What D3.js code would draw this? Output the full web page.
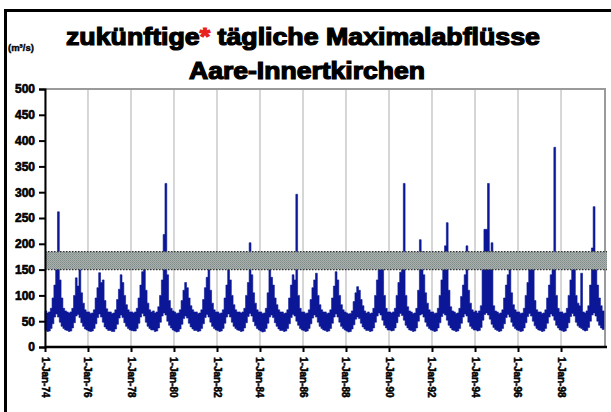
<!DOCTYPE html>
<html><head><meta charset="utf-8">
<script src="https://cdn.jsdelivr.net/npm/d3@7"></script>
<style>body{margin:0;background:#fff}svg{display:block}</style>
</head><body>
<svg id="c" width="611" height="412"></svg>
<script>
// ---- data ----
const startYear = 2074;
const endYear = 2100;
const tickYears = [2074,2076,2078,2080,2082,2084,2086,2088,2090,2092,2094,2096,2098];
const tickLabels = ["1-Jan-74","1-Jan-76","1-Jan-78","1-Jan-80","1-Jan-82","1-Jan-84","1-Jan-86","1-Jan-88","1-Jan-90","1-Jan-92","1-Jan-94","1-Jan-96","1-Jan-98"];
const yTicks = [0,50,100,150,200,250,300,350,400,450,500];
const titleLine1a = "zukünftige";
const titleLine1b = " tägliche Maximalabflüsse";
const titleLine2 = "Aare-Innertkirchen";
const unitLabel = "(m³/s)";
const bandRange = [150, 185];

// monthly maxima of daily peak discharge (m3/s), one row per year, Jan..Dec
const monthlyMax = [
  [70,66,68,75,95,120,150,262,130,95,75,70],
  [68,66,68,75,100,134,118,150,105,85,72,68],
  [68,65,66,72,95,115,144,125,130,90,74,68],
  [68,65,66,72,92,112,140,125,100,82,72,68],
  [68,66,68,75,95,120,146,152,110,85,72,68],
  [70,66,68,78,100,130,218,317,140,90,75,70],
  [68,65,66,72,90,110,125,115,95,80,72,68],
  [68,65,66,72,92,115,135,150,110,85,72,68],
  [68,65,66,72,95,120,150,130,100,82,72,68],
  [68,66,68,75,100,125,202,140,105,85,72,68],
  [68,65,66,75,105,150,135,120,95,82,72,68],
  [68,65,66,72,95,120,140,130,296,100,75,68],
  [68,65,66,72,92,115,130,143,100,82,72,68],
  [68,65,66,72,95,118,146,130,100,82,72,68],
  [66,64,65,70,88,105,117,110,92,80,70,66],
  [68,65,66,75,100,130,150,165,158,100,75,68],
  [68,66,68,75,100,125,145,150,317,100,78,70],
  [68,65,66,75,110,208,185,140,105,85,72,68],
  [68,65,66,75,100,130,150,196,241,110,78,70],
  [68,65,66,75,98,120,140,196,110,85,72,68],
  [70,66,70,80,150,228,228,317,160,202,80,70],
  [68,65,66,72,95,120,140,150,105,82,72,68],
  [68,65,66,75,100,125,150,155,150,90,72,68],
  [68,65,66,72,95,120,140,150,387,100,75,68],
  [68,65,66,75,100,130,150,155,100,85,80,143],
  [68,66,70,80,120,192,272,150,120,95,80,70]
];
// monthly minima of daily peak discharge (m3/s), one row per year, Jan..Dec
const monthlyMin = [
  [32,30,31,36,45,58,64,58,48,40,36,33],
  [32,30,31,37,47,60,63,57,47,40,35,33],
  [31,30,31,36,45,57,64,58,48,39,35,32],
  [32,30,30,35,44,56,62,57,47,40,36,33],
  [32,31,31,36,46,58,65,60,48,40,36,33],
  [33,30,31,37,48,60,66,62,50,42,37,33],
  [31,29,30,35,44,55,60,56,46,39,35,32],
  [32,30,31,36,45,57,63,58,48,40,36,33],
  [32,30,31,36,46,58,64,58,48,40,36,33],
  [32,30,31,37,47,59,65,60,49,41,36,33],
  [31,29,30,36,46,58,62,57,47,40,35,32],
  [32,30,31,36,45,57,63,60,50,42,36,33],
  [32,30,31,36,45,56,62,58,48,40,36,33],
  [32,30,31,36,46,58,64,58,48,40,36,33],
  [31,29,30,35,43,54,58,55,46,39,35,32],
  [32,30,31,37,48,60,66,62,52,42,37,33],
  [33,31,32,37,47,59,65,61,52,42,37,33],
  [32,30,31,37,50,62,64,58,48,40,36,33],
  [32,30,31,37,47,59,65,62,52,42,37,33],
  [32,30,31,36,46,58,64,60,48,40,36,33],
  [33,31,32,38,52,63,66,62,54,44,38,34],
  [32,30,31,36,45,57,63,58,48,40,36,33],
  [32,30,31,37,47,59,65,60,50,41,36,33],
  [32,30,31,36,46,58,64,60,52,42,37,33],
  [32,30,31,37,47,59,65,60,48,41,38,36],
  [33,31,32,38,50,62,66,60,50,42,37,34]
];

// ---- chart ----
const svg = d3.select("#c");
const W = 611, H = 412;
const plot = {left: 45, right: 604, top: 89, bottom: 347};

const x = d3.scaleTime()
  .domain([new Date(startYear,0,1), new Date(endYear,0,1)])
  .range([plot.left, plot.right]);
const y = d3.scaleLinear().domain([0,500]).range([plot.bottom, plot.top]);

// build monthly records
const recs = [];
monthlyMax.forEach((row, i) => row.forEach((v, m) => {
  recs.push({d: new Date(startYear + i, m, 1), hi: v, lo: monthlyMin[i][m]});
}));
recs.push({d: new Date(endYear,0,1), hi: recs[recs.length-1].hi, lo: recs[recs.length-1].lo});

// outer frame
svg.append("line").attr("x1",5).attr("x2",W).attr("y1",10.5).attr("y2",10.5)
  .attr("stroke","#000").attr("stroke-width",3);
svg.append("line").attr("x1",5.5).attr("x2",5.5).attr("y1",9).attr("y2",H)
  .attr("stroke","#000").attr("stroke-width",3);

// pattern for band
const defs = svg.append("defs");
const pat = defs.append("pattern").attr("id","hatch").attr("patternUnits","userSpaceOnUse")
  .attr("width",2).attr("height",2);
pat.append("rect").attr("width",2).attr("height",2).attr("fill","#a9b0ae");
pat.append("rect").attr("width",1).attr("height",1).attr("fill","#7f8c8a");
pat.append("rect").attr("x",1).attr("y",1).attr("width",1).attr("height",1).attr("fill","#8f9896");

// gridlines
svg.append("g").selectAll("line").data(tickYears).join("line")
  .attr("x1", d => x(new Date(d,0,1))).attr("x2", d => x(new Date(d,0,1)))
  .attr("y1", plot.top).attr("y2", plot.bottom)
  .attr("stroke","#c9c9c9").attr("stroke-width",1.5);

// plot border (top/right)
svg.append("path")
  .attr("d", `M${plot.left},${plot.top}H${plot.right+1}V${plot.bottom}`)
  .attr("fill","none").attr("stroke","#9a9a9a").attr("stroke-width",2);

// data area
const area = d3.area()
  .x(d => x(d.d)).y0(d => y(d.lo)).y1(d => y(d.hi))
  .curve(d3.curveStepAfter);
svg.append("path").datum(recs).attr("d", area)
  .attr("fill","#0b1796").attr("stroke","#0b1796").attr("stroke-width",0.6);

// band
svg.append("rect")
  .attr("x", plot.left).attr("width", plot.right + 3 - plot.left)
  .attr("y", y(bandRange[1])).attr("height", y(bandRange[0]) - y(bandRange[1]))
  .attr("fill","url(#hatch)");
[bandRange[0], bandRange[1]].forEach(v => {
  svg.append("line").attr("x1",plot.left).attr("x2",plot.right+3)
    .attr("y1", y(v)).attr("y2", y(v))
    .attr("stroke","#333").attr("stroke-width",1.2).attr("stroke-dasharray","1.5,1.5");
});

// axes
const yAxis = d3.axisLeft(y).tickValues(yTicks).tickSize(6).tickPadding(4);
const gy = svg.append("g").attr("transform",`translate(${plot.left},0)`).call(yAxis);
gy.select(".domain").attr("stroke","#000").attr("stroke-width",2);
gy.selectAll(".tick line").attr("stroke","#000").attr("stroke-width",2);
gy.selectAll(".tick text").attr("font-family","Liberation Sans, Arial, sans-serif")
  .attr("font-weight","bold").attr("font-size",12).attr("fill","#000")
  .attr("stroke","#000").attr("stroke-width",0.6);

const xAxis = d3.axisBottom(x)
  .tickValues(tickYears.map(yv => new Date(yv,0,1)))
  .tickFormat((d,i) => tickLabels[i]).tickSize(5).tickPadding(3);
const gx = svg.append("g").attr("transform",`translate(0,${plot.bottom})`).call(xAxis);
gx.select(".domain").attr("stroke","#000").attr("stroke-width",2.5)
  .attr("d", `M${plot.left},0H${plot.right+3}`);
gx.selectAll(".tick line").attr("stroke","#000").attr("stroke-width",2);
gx.selectAll(".tick text")
  .attr("font-family","Liberation Sans, Arial, sans-serif")
  .attr("font-weight","bold").attr("font-size",10).attr("fill","#000")
  .attr("stroke","#000").attr("stroke-width",0.5)
  .attr("text-anchor","start")
  .attr("transform","translate(-4,10) rotate(90)")
  .attr("dy","0").attr("y",0).attr("x",0);

// titles
const t1 = svg.append("text").attr("x",303).attr("y",45)
  .attr("text-anchor","middle")
  .attr("font-family","Liberation Sans, Arial, sans-serif")
  .attr("font-weight","bold").attr("font-size",23)
  .attr("fill","#000").attr("stroke","#000").attr("stroke-width",1.2)
  .attr("textLength",474).attr("lengthAdjust","spacingAndGlyphs");
t1.append("tspan").text(titleLine1a);
t1.append("tspan").text("*").attr("fill","#e8231c").attr("stroke","#e8231c");
t1.append("tspan").text(titleLine1b);

svg.append("text").attr("x",307).attr("y",79)
  .attr("text-anchor","middle")
  .attr("font-family","Liberation Sans, Arial, sans-serif")
  .attr("font-weight","bold").attr("font-size",23)
  .attr("fill","#000").attr("stroke","#000").attr("stroke-width",1.2)
  .attr("textLength",236).attr("lengthAdjust","spacingAndGlyphs")
  .text(titleLine2);

svg.append("text").attr("x",8).attr("y",51)
  .attr("font-family","Liberation Sans, Arial, sans-serif")
  .attr("font-weight","bold").attr("font-size",9.5)
  .attr("fill","#000").attr("stroke","#000").attr("stroke-width",0.4)
  .text(unitLabel);
</script>
</body></html>
